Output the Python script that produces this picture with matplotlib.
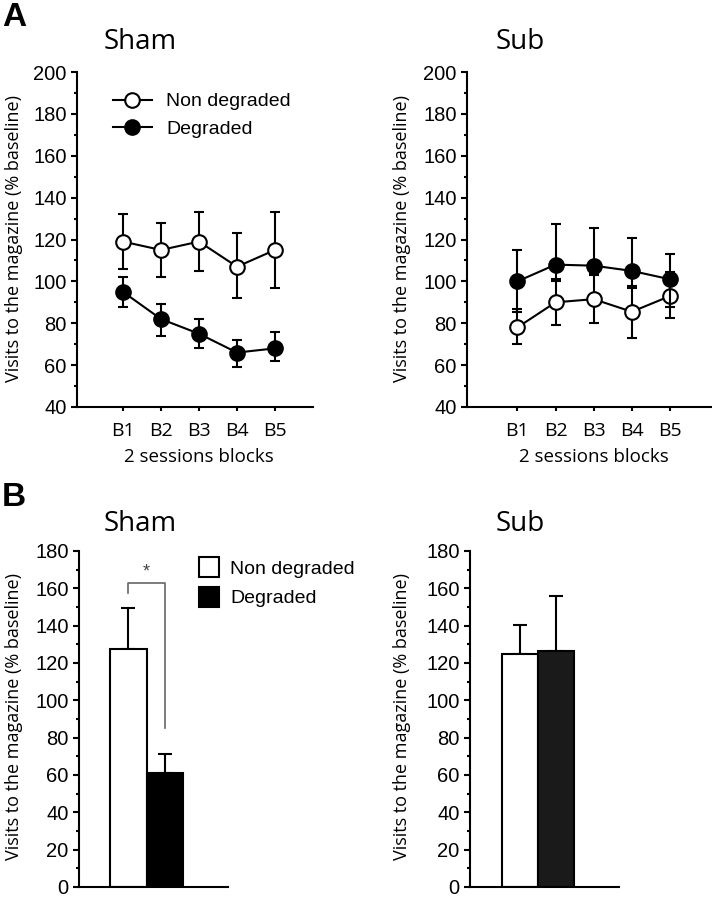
import matplotlib
matplotlib.use("Agg")
import matplotlib.pyplot as plt
import matplotlib.transforms as mtransforms
from matplotlib.ticker import MultipleLocator
from matplotlib.lines import Line2D
from matplotlib.patches import Patch

# ---- data ----
blocks = ["B1", "B2", "B3", "B4", "B5"]

sham_nondeg = [119, 115, 119, 107, 115]
sham_nondeg_lo = [106, 102, 105, 92, 97]
sham_nondeg_hi = [132, 128, 133, 123, 133]
sham_deg = [95, 82, 75, 66, 68]
sham_deg_lo = [88, 74, 68, 59, 62]
sham_deg_hi = [102, 89, 82, 72, 76]

sub_nondeg = [78, 90, 91.5, 85.5, 93]
sub_nondeg_lo = [70, 79, 80, 73, 82.5]
sub_nondeg_hi = [87, 101, 104, 97, 104.5]
sub_deg = [100, 108, 107.5, 105, 101]
sub_deg_lo = [85.5, 100, 103, 98, 88]
sub_deg_hi = [115, 127.5, 125.5, 120.5, 113]

bar_groups = ["Non degraded", "Degraded"]
sham_bar = [127.5, 61]
sham_bar_err = [22, 10.5]
sub_bar = [125, 126.5]
sub_bar_err = [15.5, 29.5]

W, H = 712, 899
fig = plt.figure(figsize=(W / 100, H / 100), dpi=100)

tick_font = "Liberation Sans"
label_font = "Open Sans"
LW = 1.5
MS = 10.5


def box(l, t, r, b):
    return [l / W, 1 - b / H, (r - l) / W, (b - t) / H]


def style(ax, ymin, ymax, major, minor):
    for s in ["top", "right"]:
        ax.spines[s].set_visible(False)
    for s in ["left", "bottom"]:
        ax.spines[s].set_linewidth(LW)
    ax.set_ylim(ymin, ymax)
    ax.yaxis.set_major_locator(MultipleLocator(major))
    ax.yaxis.set_minor_locator(MultipleLocator(minor))
    ax.tick_params(axis="y", which="major", length=4.5, width=LW, pad=3,
                   labelsize=14.5)
    ax.tick_params(axis="y", which="minor", length=2.5, width=LW)
    ax.tick_params(axis="x", length=3, width=LW, pad=8, labelsize=14)
    for lab in ax.get_yticklabels():
        lab.set_family(tick_font)


def err(vals, lo, hi):
    return [[v - l for v, l in zip(vals, lo)], [h - v for v, h in zip(vals, hi)]]


def line_panel(ax, nd, nd_lo, nd_hi, dg, dg_lo, dg_hi, xlim):
    x = list(range(1, len(blocks) + 1))
    ax.errorbar(x, nd, yerr=err(nd, nd_lo, nd_hi), color="black", lw=LW,
                elinewidth=LW, capsize=3.4, capthick=LW, marker="o",
                markersize=MS, markerfacecolor="white",
                markeredgecolor="black", markeredgewidth=LW, zorder=3)
    ax.errorbar(x, dg, yerr=err(dg, dg_lo, dg_hi), color="black", lw=LW,
                elinewidth=LW, capsize=3.4, capthick=LW, marker="o",
                markersize=MS, markerfacecolor="black",
                markeredgecolor="black", markeredgewidth=LW, zorder=4)
    style(ax, 40, 200, 20, 10)
    ax.set_xlim(*xlim)
    ax.set_xticks(x)
    ax.set_xticklabels(blocks, family=label_font)
    trans = mtransforms.blended_transform_factory(ax.transData, ax.transAxes)
    ax.text(3, -0.15, "2 sessions blocks", transform=trans, ha="center",
            va="center", fontsize=13.5, family=label_font)


def bar_panel(ax, vals, errs, black, xlim):
    x = list(range(len(vals)))
    ax.bar(x[0], vals[0], width=1.0, color="white", edgecolor="black",
           linewidth=LW, zorder=2)
    ax.bar(x[1], vals[1], width=1.0, color=black, edgecolor="black",
           linewidth=LW, zorder=2)
    ax.errorbar(x, vals, yerr=[[0] * len(vals), errs], fmt="none",
                ecolor="black", elinewidth=LW, capsize=5, capthick=LW,
                zorder=1)
    style(ax, 0, 180, 20, 10)
    ax.set_xlim(*xlim)
    ax.set_xticks([])
    ax.spines["bottom"].set_zorder(5)


# ---- Panel A ----
axA1 = fig.add_axes(box(77, 72, 313, 407))
line_panel(axA1, sham_nondeg, sham_nondeg_lo, sham_nondeg_hi,
           sham_deg, sham_deg_lo, sham_deg_hi, (-0.21, 6.0))
legA = [Line2D([], [], color="black", lw=LW, marker="o", markersize=MS,
               markerfacecolor=fc, markeredgecolor="black",
               markeredgewidth=LW) for fc in ("white", "black")]
axA1.legend(legA, bar_groups, loc="upper left",
            bbox_to_anchor=(0.11, 0.967), frameon=False, handlelength=2.0,
            handletextpad=0.75, labelspacing=0.5, borderpad=0,
            prop={"family": tick_font, "size": 14})

axA2 = fig.add_axes(box(467, 72, 712, 407))
line_panel(axA2, sub_nondeg, sub_nondeg_lo, sub_nondeg_hi,
           sub_deg, sub_deg_lo, sub_deg_hi, (-0.32, 6.1))

# ---- Panel B ----
axB1 = fig.add_axes(box(79, 551, 228, 887))
bar_panel(axB1, sham_bar, sham_bar_err, "black", (-1.34, 2.72))
# significance bracket
axB1.plot([0, 0, 1, 1], [157.5, 163, 163, 85], color="#666666", lw=1.2,
          zorder=3)
axB1.text(0.5, 169, "*", ha="center", va="center", fontsize=13,
          family=tick_font, color="#444444")
axB1.legend([Patch(facecolor="white", edgecolor="black", linewidth=LW),
             Patch(facecolor="black", edgecolor="black", linewidth=LW)],
            bar_groups, loc="upper left", bbox_to_anchor=(0.74, 1.01),
            frameon=False, handlelength=1.05, handleheight=1.2,
            handletextpad=0.55, labelspacing=0.45, borderpad=0,
            prop={"family": tick_font, "size": 14})

axB2 = fig.add_axes(box(470, 551, 619, 887))
bar_panel(axB2, sub_bar, sub_bar_err, "#1a1a1a", (-1.38, 2.73))

# ---- titles, y labels, panel letters ----
for px, py, txt in [(140, 42, "Sham"), (520, 42, "Sub"),
                    (140, 524, "Sham"), (520, 524, "Sub")]:
    fig.text(px / W, 1 - py / H, txt, ha="center", va="center",
             fontsize=20, family=label_font)

for px, py in [(14, 239), (402, 239), (14, 716), (402, 716)]:
    fig.text(px / W, 1 - py / H, "Visits to the magazine (% baseline)",
             rotation=90, ha="center", va="center", fontsize=13,
             family=label_font)

fig.text(2 / W, 1 - 17 / H, "A", ha="left", va="center", fontsize=24,
         fontweight="bold", family=tick_font)
fig.text(2 / W, 1 - 497 / H, "B", ha="left", va="center", fontsize=24,
         fontweight="bold", family=tick_font)

fig.savefig("out.png", dpi=100)
